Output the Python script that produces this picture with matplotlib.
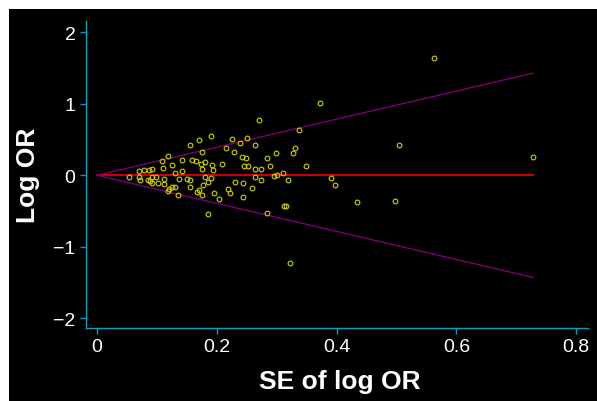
import matplotlib
matplotlib.use("Agg")
import matplotlib.pyplot as plt
from matplotlib.patches import Rectangle
import numpy as np

plt.rcParams['font.family'] = ['Liberation Sans', 'DejaVu Sans']

# Standard errors of log OR (x) and log OR values (y)
se = [0.054, 0.070, 0.070, 0.072, 0.079, 0.086, 0.091, 0.085, 0.088, 0.091,
      0.098, 0.091, 0.101, 0.108, 0.119, 0.110, 0.112, 0.112, 0.125, 0.130,
      0.137, 0.125, 0.130, 0.121, 0.119, 0.136, 0.142, 0.142, 0.150, 0.156,
      0.155, 0.155, 0.159, 0.165, 0.170, 0.170, 0.167, 0.175, 0.175, 0.180,
      0.174, 0.175, 0.181, 0.177, 0.186, 0.191, 0.192, 0.194, 0.191, 0.196,
      0.203, 0.186, 0.209, 0.215, 0.218, 0.222, 0.225, 0.228, 0.230, 0.239,
      0.242, 0.248, 0.245, 0.252, 0.244, 0.243, 0.250, 0.263, 0.263, 0.263,
      0.259, 0.270, 0.273, 0.273, 0.283, 0.288, 0.283, 0.299, 0.296, 0.300,
      0.311, 0.319, 0.313, 0.316, 0.328, 0.331, 0.337, 0.349, 0.322, 0.372,
      0.391, 0.398, 0.434, 0.497, 0.504, 0.563, 0.728]
log_or = [-0.020, 0.060, -0.024, -0.070, 0.074, 0.078, 0.088, -0.066, -0.080, -0.020,
          -0.020, -0.103, -0.108, 0.196, 0.265, 0.106, -0.056, -0.126, 0.148, 0.036,
          -0.047, -0.163, -0.168, -0.191, -0.215, -0.271, 0.214, 0.060, -0.047, -0.070,
          -0.168, 0.427, 0.209, 0.200, 0.497, -0.205, -0.237, -0.271, 0.325, 0.182,
          0.158, 0.092, -0.024, -0.131, -0.098, 0.553, 0.140, 0.074, -0.034, -0.247,
          -0.335, -0.536, 0.162, 0.377, -0.196, -0.251, 0.507, 0.330, -0.098, 0.451,
          0.260, 0.237, 0.134, 0.130, -0.103, -0.299, 0.521, 0.423, 0.092, -0.024,
          -0.182, 0.772, 0.088, -0.070, 0.246, 0.130, -0.527, 0.307, -0.005, 0.005,
          0.032, -0.070, -0.425, -0.425, 0.316, 0.381, 0.637, 0.130, -1.225, 1.010,
          -0.038, -0.140, -0.369, -0.359, 0.419, 1.638, 0.256]

z = 1.96
xticks = [0, 0.2, 0.4, 0.6, 0.8]
xticklabels = ['0', '0.2', '0.4', '0.6', '0.8']
yticks = [-2, -1, 0, 1, 2]
yticklabels = ['\u22122', '\u22121', '0', '1', '2']

W, H = 597, 402
fig = plt.figure(figsize=(W / 100, H / 100), dpi=100)
fig.patch.set_facecolor('white')
fig.patches.append(Rectangle((9 / W, 0), 1 - 9 / W, 1 - 10 / H,
                             transform=fig.transFigure, facecolor='black',
                             edgecolor='none', zorder=-10))

ax = fig.add_axes([86 / W, 1 - 329 / H, (588 - 86) / W, (329 - 22) / H])
ax.set_zorder(5)
ax.set_facecolor('black')

teal = '#00a4b4'
max_se = max(se)
ax.plot([0, max_se], [0, 0], color='#e00000', lw=1.3, zorder=2)
ax.plot([0, max_se], [0, z * max_se], color='#780078', lw=1.0, zorder=2)
ax.plot([0, max_se], [0, -z * max_se], color='#780078', lw=1.0, zorder=2)
ax.plot(se, log_or, linestyle='none', marker='o', markersize=3.4,
        markerfacecolor='none', markeredgecolor='#d0d000', markeredgewidth=0.8,
        zorder=3)

ax.set_xlim(-0.0184, 0.8197)
ax.set_ylim(-2.133, 2.155)

for s in ['top', 'right']:
    ax.spines[s].set_visible(False)
for s in ['left', 'bottom']:
    ax.spines[s].set_color(teal)
    ax.spines[s].set_linewidth(1.0)

ax.set_xticks(xticks)
ax.set_xticklabels(xticklabels)
ax.set_yticks(yticks)
ax.set_yticklabels(yticklabels)
ax.tick_params(axis='both', colors=teal, labelcolor='white', labelsize=14,
               length=4.5, width=1.0, direction='out')
ax.tick_params(axis='x', pad=3)
ax.tick_params(axis='y', pad=3)

fig.text(339.8 / W, 1 - 389 / H, 'SE of log OR', color='white', fontsize=19,
         fontweight='bold', ha='center', va='baseline', zorder=6)
fig.text(28 / W, 1 - 175 / H, 'Log OR', color='white', fontsize=19,
         fontweight='bold', ha='center', va='center', rotation=90, zorder=6)

fig.savefig('out.png', dpi=100, facecolor=fig.get_facecolor())
